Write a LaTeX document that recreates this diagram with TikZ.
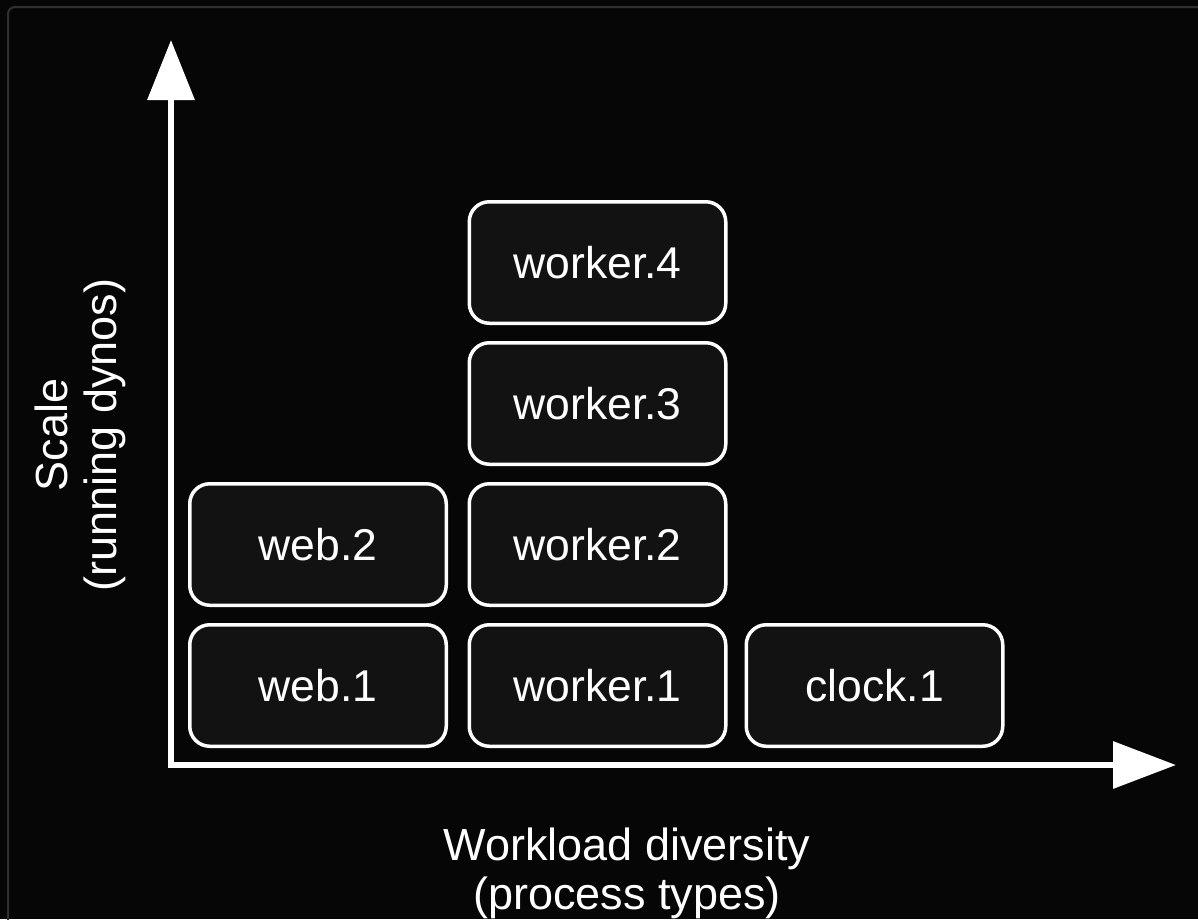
\documentclass[tikz,border=0pt]{standalone}
\usepackage{fontspec}
\setmainfont{Liberation Sans}
\usetikzlibrary{arrows.meta}
\definecolor{bg}{HTML}{060606}
\definecolor{frame}{HTML}{303030}
\definecolor{boxfill}{HTML}{121212}
\tikzset{
  dyno/.style={draw=white, line width=3.5pt, fill=boxfill, rounded corners=20pt,
    minimum width=256.5pt, minimum height=121.5pt, inner sep=0pt, text=white,
    font=\fontsize{44.5}{50}\selectfont},
  axislabel/.style={text=white, align=center, inner sep=0pt,
    font=\fontsize{45}{49}\selectfont},
  axis/.style={draw=white, line width=6.5pt, line join=miter,
    {Triangle[length=60pt,width=46pt]}-{Triangle[length=63pt,width=46pt]}},
  border/.style={draw=frame, line width=2pt}
}
\begin{document}
\begin{tikzpicture}[x=1pt,y=-1pt]
\useasboundingbox (0,0) rectangle (1198,919);
\fill[bg] (0,0) rectangle (1198,919);
\draw[border, rounded corners=7pt] (8,925) -- (8,7) -- (1205,7);
% axes
\coordinate (ytip) at (171,40);
\coordinate (corner) at (171,765);
\coordinate (xtip) at (1176,765);
\draw[axis] (ytip) -- (corner) -- (xtip);
% dynos
\node[dyno] (web1) at (318,685.5) {web.1};
\node[dyno] (web2) at (318,544.5) {web.2};
\node[dyno] (worker1) at (597.5,685.5) {worker.1};
\node[dyno] (worker2) at (597.5,544.5) {worker.2};
\node[dyno] (worker3) at (597.5,403.5) {worker.3};
\node[dyno] (worker4) at (597.5,262.5) {worker.4};
\node[dyno] (clock1) at (874.5,685.5) {clock.1};
% labels
\node[axislabel, anchor=north] (xlabel) at (627,828) {Workload diversity\\(process types)};
\node[axislabel, rotate=90] (ylabel) at (80,435) {Scale\\(running dynos)};
\end{tikzpicture}
\end{document}
